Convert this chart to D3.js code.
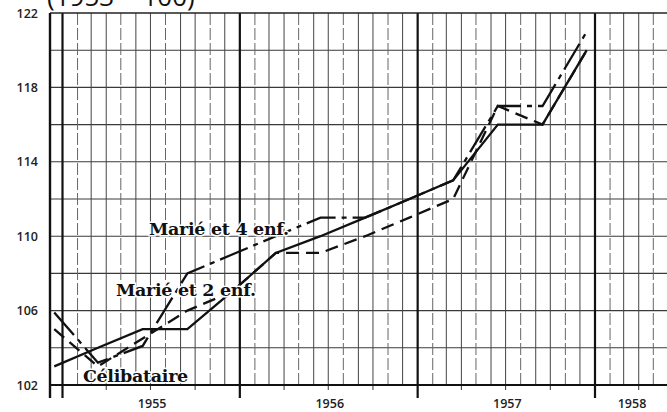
<!DOCTYPE html>
<html><head><meta charset="utf-8">
<script src="https://cdn.jsdelivr.net/npm/d3@7/dist/d3.min.js"></script>
<style>html,body{margin:0;padding:0;background:#fff;} svg{display:block;}</style>
</head><body>
<svg id="chart" width="667" height="412"></svg>
<script>
// Quarterly index values (mid-month readings), base 1953 = 100
const periods = ["1954-12","1955-03","1955-06","1955-09","1955-12","1956-03","1956-06","1956-09","1956-12","1957-03","1957-06","1957-09","1957-12"];
const celibataire = [103.0,104.0,105.0,105.0,107.0,109.1,110.0,111.0,112.0,113.0,116.0,116.0,120.0];
const marie2enf  = [105.0,103.0,104.5,106.0,107.0,109.1,109.1,110.0,111.0,112.0,117.0,116.0,120.0];
const marie4enf  = [105.9,103.2,104.1,108.0,109.0,110.0,111.0,111.0,112.0,113.0,117.0,117.0,121.0];
const seriesNames = ["Célibataire","Marié et 2 enf.","Marié et 4 enf."];
const yTicks = [102,106,110,114,118,122];
const yearLabels = ["1955","1956","1957","1958"];
const baseNote = "(1953 = 100)";

const svg = d3.select("#chart");
const plotLeft = 50, plotRight = 667, plotTop = 13, plotBottom = 385;

const parse = s => { const [yy,mm] = s.split("-").map(Number); return new Date(yy, mm-1, 15); };
const dates = periods.map(parse);

const x = d3.scaleTime()
  .domain([new Date(1955,0,1), new Date(1958,0,1)])
  .range([62.5, 595]);
const y = d3.scaleLinear().domain([102,122]).range([plotBottom, plotTop]);

const xStart = x.invert(plotLeft), xEnd = x.invert(plotRight);

// base note, partly above the frame
svg.append("text")
  .attr("x", 47).attr("y", 6)
  .attr("font-family", "Open Sans, sans-serif")
  .attr("font-size", 26).attr("fill", "#111")
  .text(baseNote);

const grid = svg.append("g");

// horizontal grid every 2 points
d3.range(104, 122, 2).forEach(v => {
  grid.append("line")
    .attr("x1", plotLeft).attr("x2", plotRight)
    .attr("y1", y(v)).attr("y2", y(v))
    .attr("stroke", "#3a3a3a").attr("stroke-width", 1.1);
});

// monthly verticals
const months = d3.timeMonth.range(d3.timeMonth.ceil(xStart), xEnd);
months.forEach(m => {
  const isYear = m.getMonth() === 0;
  const midQuarter = m.getMonth() % 3 === 1;
  grid.append("line")
    .attr("x1", x(m)).attr("x2", x(m))
    .attr("y1", plotTop).attr("y2", isYear ? plotBottom + 13 : plotBottom)
    .attr("stroke", isYear ? "#111" : (midQuarter ? "#666" : "#444"))
    .attr("stroke-width", isYear ? 2.2 : 1)
    .attr("stroke-dasharray", (!isYear && midQuarter) ? "12,3" : null);
  // quarter ticks under the axis
  if (!isYear && m.getMonth() % 3 === 0) {
    grid.append("line")
      .attr("x1", x(m)).attr("x2", x(m))
      .attr("y1", plotBottom).attr("y2", plotBottom + 5)
      .attr("stroke", "#333").attr("stroke-width", 1);
  }
});

// frame: top edge, left axis, bottom axis
svg.append("line").attr("x1", plotLeft).attr("x2", plotRight).attr("y1", plotTop).attr("y2", plotTop)
  .attr("stroke", "#222").attr("stroke-width", 1.5);
svg.append("line").attr("x1", plotLeft).attr("x2", plotLeft).attr("y1", plotTop).attr("y2", plotBottom + 13)
  .attr("stroke", "#111").attr("stroke-width", 2.4);
svg.append("line").attr("x1", plotLeft).attr("x2", plotRight).attr("y1", plotBottom).attr("y2", plotBottom)
  .attr("stroke", "#111").attr("stroke-width", 2);

// y axis labels
const yAxis = d3.axisLeft(y).tickValues(yTicks).tickSize(0).tickPadding(12);
const ya = svg.append("g").attr("transform", `translate(${plotLeft},0)`).call(yAxis);
ya.select(".domain").remove();
ya.selectAll("text")
  .attr("font-family", "Open Sans, sans-serif")
  .attr("font-size", 12.5).attr("font-weight", 600).attr("fill", "#222");

// year labels centred in the visible part of each year
yearLabels.forEach(yr => {
  const a = Math.max(plotLeft, x(new Date(+yr,0,1)));
  const b = Math.min(plotRight, x(new Date(+yr+1,0,1)));
  svg.append("text")
    .attr("x", (a + b) / 2 + 1).attr("y", 408)
    .attr("text-anchor", "middle")
    .attr("font-family", "Open Sans, sans-serif")
    .attr("font-size", 12.5).attr("font-weight", 600).attr("fill", "#222")
    .text(yr);
});

// series lines
const line = d3.line().x((d,i) => x(dates[i])).y(d => y(d));
const series = [
  {name: seriesNames[0], values: celibataire, dash: null},
  {name: seriesNames[1], values: marie2enf, dash: "13,7"},
  {name: seriesNames[2], values: marie4enf, dash: "30,6,5,6"}
];
svg.append("g").selectAll("path").data(series).join("path")
  .attr("d", d => line(d.values))
  .attr("fill", "none")
  .attr("stroke", "#111")
  .attr("stroke-width", 2.3)
  .attr("stroke-dasharray", d => d.dash);

// series labels placed in data space
const labelPos = [
  {name: seriesNames[0], date: new Date(1955,1,12), value: 102.17},
  {name: seriesNames[1], date: new Date(1955,3,21), value: 106.8},
  {name: seriesNames[2], date: new Date(1955,5,28), value: 110.05}
];
svg.append("g").selectAll("text").data(labelPos).join("text")
  .attr("x", d => x(d.date)).attr("y", d => y(d.value))
  .attr("font-family", "DejaVu Serif, serif")
  .attr("font-weight", "bold")
  .attr("font-size", 17.5)
  .attr("letter-spacing", -0.3)
  .attr("fill", "#111")
  .attr("stroke", "#fff").attr("stroke-width", 3).attr("paint-order", "stroke")
  .text(d => d.name);
</script>
</body></html>
